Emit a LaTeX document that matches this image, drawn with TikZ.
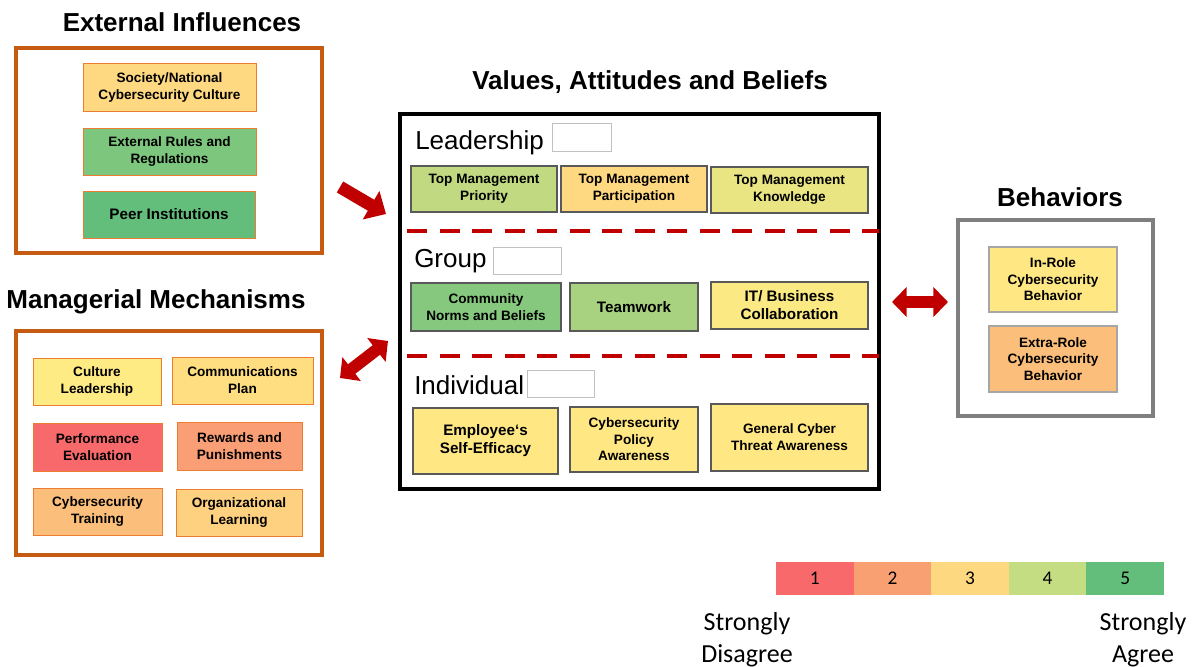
\documentclass[tikz,border=0pt]{standalone}
\usepackage{fontspec}
\setmainfont{Liberation Sans}
\newfontfamily\calib{Carlito}
\usetikzlibrary{arrows.meta}
\definecolor{frameor}{HTML}{C55A11}
\definecolor{thinor}{HTML}{ED7D31}
\definecolor{darkred}{HTML}{C00000}
\definecolor{boxgray}{HTML}{595959}
\definecolor{lightgray}{HTML}{A6A6A6}
\definecolor{framegray}{HTML}{7F7F7F}
\definecolor{cA}{HTML}{F8696B}
\definecolor{cB}{HTML}{FA9E75}
\definecolor{cC}{HTML}{FCBF7B}
\definecolor{cD}{HTML}{FFD981}
\definecolor{cE}{HTML}{FFE884}
\definecolor{cF}{HTML}{E9E583}
\definecolor{cG}{HTML}{C1DA81}
\definecolor{cH}{HTML}{A8D27F}
\definecolor{cI}{HTML}{86C97E}
\definecolor{cJ}{HTML}{7DC67D}
\definecolor{cK}{HTML}{63BE7B}
\definecolor{cL}{HTML}{FDD17F}
\definecolor{cM}{HTML}{FEDE81}
\definecolor{cN}{HTML}{FFEB84}
\definecolor{cO}{HTML}{FBE983}
\definecolor{sc1}{HTML}{F8696B}
\definecolor{sc2}{HTML}{F9A073}
\definecolor{sc3}{HTML}{FED880}
\definecolor{sc4}{HTML}{C4DC82}
\definecolor{sc5}{HTML}{63BE7B}
\newcommand\bx[7]{%
 \pgfmathsetmacro\myCX{(#2+#4)/2}%
 \pgfmathsetmacro\myCY{(#3+#5)/2}%
 \pgfmathsetmacro\myW{(#4-#2)*0.75}%
 \pgfmathsetmacro\myH{(#5-#3)*0.75}%
 \node[#6,minimum width=\myW pt,minimum height=\myH pt] (#1) at (\myCX,\myCY) {#7};}
\tikzset{
 title/.style={font=\bfseries\fontsize{19.5}{23}\selectfont},
 level/.style={font=\fontsize{19.5}{23}\selectfont,anchor=base west,inner sep=0pt},
 orframe/.style={draw=frameor,line width=2.6pt,inner sep=0pt},
 blkframe/.style={draw=black,line width=3pt,inner sep=0pt},
 grframe/.style={draw=framegray,line width=3pt,inner sep=0pt},
 item/.style={align=center,inner sep=0pt,font=\bfseries\fontsize{10.2}{12.75}\selectfont},
 bigitem/.style={align=center,inner sep=0pt,font=\bfseries\fontsize{11.4}{13.5}\selectfont},
 orbox/.style={draw=thinor,line width=0.6pt},
 gybox/.style={draw=boxgray,line width=0.8pt},
 ltbox/.style={draw=lightgray,line width=0.8pt},
 emptybox/.style={draw=lightgray!70,line width=0.6pt,inner sep=0pt},
 sepline/.style={draw=darkred,line width=3pt,dash pattern=on 15pt off 9.4pt},
 bigarrow/.style={draw=darkred,line width=9.5pt,-{Triangle[length=13pt,width=24pt]}},
 dblarrow/.style={draw=darkred,line width=9pt,{Triangle[length=11pt,width=22pt]}-{Triangle[length=11pt,width=22pt]}},
 cell/.style={inner sep=0pt,font=\calib\fontsize{14.5}{16}\selectfont},
 scaletxt/.style={align=center,inner sep=0pt,font=\calib\fontsize{19.5}{24}\selectfont}
}
\begin{document}
\begin{tikzpicture}[x=0.75pt,y=-0.75pt]
\useasboundingbox (0,0) rectangle (1199,667);
% titles
\node[title] (tExt) at (182,22) {External Influences};
\node[title] (tMan) at (156,302) {Managerial Mechanisms};
\node[title] (tVal) at (650,82) {Values, Attitudes and Beliefs};
\node[title] (tBeh) at (1060,197) {Behaviors};
% frames
\bx{fExt}{16}{48}{322}{253}{orframe}{}
\bx{fMan}{16}{331}{322}{555}{orframe}{}
\bx{fVal}{400}{114}{879}{489}{blkframe}{}
\bx{fBeh}{958}{220}{1153}{416}{grframe}{}
% external influences
\bx{soc}{83}{63}{256}{111}{item,orbox,fill=cD}{Society/National\\Cybersecurity Culture}
\bx{rules}{83}{128}{256}{175}{item,orbox,fill=cJ}{External Rules and\\Regulations}
\bx{peer}{83}{191}{255}{238}{bigitem,orbox,fill=cK}{Peer Institutions}
% managerial mechanisms
\bx{cult}{33}{358}{161}{405}{item,orbox,fill=cN}{Culture\\Leadership}
\bx{comm}{172}{357}{313}{404}{item,orbox,fill=cM}{Communications\\Plan}
\bx{perf}{33}{423}{162}{471}{item,orbox,fill=cA}{Performance\\Evaluation}
\bx{rew}{177}{422}{302}{470}{item,orbox,fill=cB}{Rewards and\\Punishments}
\bx{train}{33}{488}{162}{535}{item,orbox,fill=cC}{Cybersecurity\\Training}
\bx{learn}{176}{489}{302}{536}{item,orbox,fill=cL}{Organizational\\Learning}
% leadership
\node[level] (lLead) at (415,149) {Leadership};
\bx{eLead}{552}{123}{611}{151}{emptybox}{}
\bx{tmp}{411}{166}{557}{212}{item,gybox,fill=cG}{Top Management\\Priority}
\bx{tmpa}{561}{166}{707}{212}{item,gybox,fill=cD}{Top Management\\Participation}
\bx{tmk}{711}{167}{868}{213}{item,gybox,fill=cF}{Top Management\\Knowledge}
\coordinate (d1a) at (407,231);
\coordinate (d1b) at (879,231);
\draw[sepline] (d1a) -- (d1b);
% group
\node[level] (lGrp) at (414,267) {Group};
\bx{eGrp}{493}{247}{561}{274}{emptybox}{}
\bx{comn}{411}{283}{561}{331}{item,gybox,fill=cI}{Community\\Norms and Beliefs}
\bx{team}{570}{283}{698}{331}{bigitem,gybox,fill=cH}{Teamwork}
\bx{itb}{711}{282}{868}{329}{bigitem,gybox,fill=cO}{IT/ Business\\Collaboration}
\coordinate (d2a) at (407,356);
\coordinate (d2b) at (879,356);
\draw[sepline] (d2a) -- (d2b);
% individual
\node[level] (lInd) at (414,394) {Individual};
\bx{eInd}{527}{370}{594}{397}{emptybox}{}
\bx{emp}{413}{408}{558}{474}{bigitem,gybox,fill=cE}{Employee‘s\\Self-Efficacy}
\bx{pol}{570}{407}{698}{472}{item,gybox,fill=cE,font=\bfseries\fontsize{10.2}{12.4}\selectfont}{Cybersecurity\\Policy\\Awareness}
\bx{gen}{711}{404}{868}{471}{item,gybox,fill=cE}{General Cyber\\Threat Awareness}
% behaviors
\bx{inr}{989}{247}{1117}{312}{item,ltbox,fill=cE,font=\bfseries\fontsize{10.2}{12.4}\selectfont}{In-Role\\Cybersecurity\\Behavior}
\bx{exr}{989}{326}{1117}{392}{item,ltbox,fill=cC,font=\bfseries\fontsize{10.2}{12.4}\selectfont}{Extra-Role\\Cybersecurity\\Behavior}
% arrows
\coordinate (a1s) at (340,187);
\coordinate (a1e) at (386,214);
\draw[bigarrow] (a1s) -- (a1e);
\coordinate (a2s) at (340,378);
\coordinate (a2e) at (388,341);
\draw[dblarrow] (a2s) -- (a2e);
\coordinate (a3s) at (892,302);
\coordinate (a3e) at (948,302);
\draw[dblarrow] (a3s) -- (a3e);
% scale
\bx{s1}{776}{562}{853.6}{595}{cell,fill=sc1}{1}
\bx{s2}{853.6}{562}{931.2}{595}{cell,fill=sc2}{2}
\bx{s3}{931.2}{562}{1008.8}{595}{cell,fill=sc3}{3}
\bx{s4}{1008.8}{562}{1086.4}{595}{cell,fill=sc4}{4}
\bx{s5}{1086.4}{562}{1164}{595}{cell,fill=sc5}{5}
\node[scaletxt] (sd) at (747,640) {Strongly\\Disagree};
\node[scaletxt] (sa) at (1143,640) {Strongly\\Agree};
\end{tikzpicture}
\end{document}
